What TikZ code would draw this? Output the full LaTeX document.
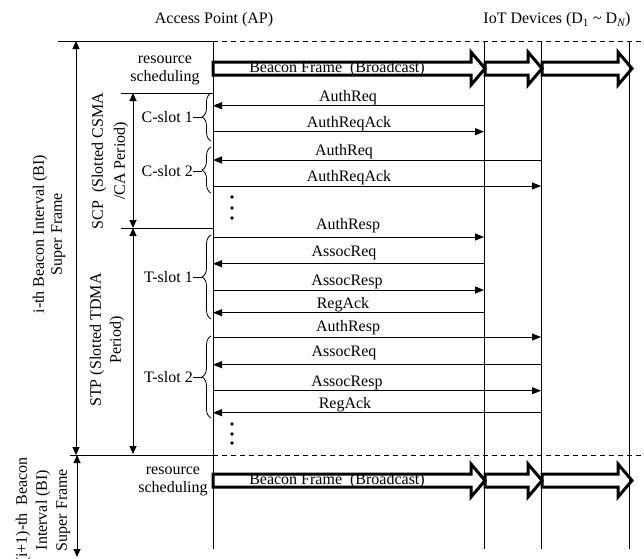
\documentclass[tikz,border=0pt]{standalone}
\usepackage{fontspec}
\setmainfont{Liberation Serif}
\usetikzlibrary{arrows.meta,decorations.pathreplacing}
\begin{document}
\begin{tikzpicture}[x=1pt,y=-1pt,
  every node/.style={inner sep=0pt, font=\fontsize{16}{18}\selectfont},
  lifeline/.style={line width=0.9pt},
  sep/.style={line width=0.9pt},
  sepdash/.style={line width=0.9pt, dash pattern=on 5pt off 4pt},
  msg/.style={line width=0.9pt,-{Triangle[length=9pt,width=7pt]}},
  period/.style={line width=0.9pt,{Triangle[length=8pt,width=7pt]}-{Triangle[length=8pt,width=7pt]}},
  beacon/.style={line width=3pt, line join=miter, miter limit=20},
  slotbrace/.style={line width=0.8pt, decorate, decoration={brace, amplitude=9pt}},
  dotmark/.style={fill, circle, minimum size=3.6pt},
  lbl/.style={anchor=base}
]
\useasboundingbox (0,0) rectangle (644,558);
\clip (0,0) rectangle (644,558);

% lifeline anchors
\coordinate (ap) at (213,41);
\coordinate (d1) at (484,41);
\coordinate (d2) at (541,41);
\coordinate (d3) at (629,41);
\coordinate (apB) at (213,549);
\coordinate (d1B) at (484,549);
\coordinate (d2B) at (541,549);
\coordinate (d3B) at (629,549);

% headers
\node (apLabel) at (214,20) {Access Point (AP)};
\node (iotLabel) at (557,20) {IoT Devices (D\textsubscript{1} \textasciitilde\ D\textsubscript{\itshape N})};

% beacon frames (two super frames)
\foreach \dy/\nm in {0/a,412/b} {
  \begin{scope}[shift={(0,\dy)}]
    \draw[beacon] (213,62) -- (471,62) -- (471,52) -- (485,68.5) -- (471,85) -- (471,75) -- (213,75) -- cycle;
    \draw[beacon] (485,62) -- (528,62) -- (528,52) -- (542,68.5) -- (528,85) -- (528,75) -- (485,75) -- cycle;
    \draw[beacon] (542,62) -- (618,62) -- (618,52) -- (632,68.5) -- (618,85) -- (618,75) -- (542,75) -- cycle;
    \node (beacon\nm) at (337,69) {Beacon Frame~~(Broadcast)};
  \end{scope}
}

% lifelines
\draw[lifeline] (ap) -- (apB);
\draw[lifeline] (d1) -- (d1B);
\draw[lifeline] (d2) -- (d2B);
\draw[lifeline] (d3) -- (d3B);

% separators
\coordinate (topL) at (58,41);
\coordinate (topR) at (644,41);
\coordinate (midL) at (70,455);
\coordinate (mid) at (213,455);
\coordinate (midR) at (644,455);
\draw[sep] (topL) -- (ap);
\draw[sepdash] (ap) -- (topR);
\draw[sep] (midL) -- (mid);
\draw[sepdash] (mid) -- (midR);
\coordinate (rsL) at (121,93);
\coordinate (scpL) at (121,228);
\draw[sep] (rsL) -- (ap |- rsL);
\draw[sep] (scpL) -- (ap |- scpL);

% resource scheduling labels
\node[align=center] (rsTop) at (165,70) {resource\\scheduling};
\node[align=center] (rsBot) at (173,481) {resource\\scheduling};

% period arrows
\coordinate (biT) at (76,41);
\coordinate (biB) at (76,455);
\draw[period] (biT) -- (biB);
\coordinate (scpT) at (133,93);
\coordinate (scpB) at (133,228);
\draw[period] (scpT) -- (scpB);
\coordinate (stpB) at (133,454);
\draw[period] (scpB) -- (stpB);
\coordinate (bi2T) at (77,455);
\coordinate (bi2B) at (77,557);
\draw[period] (bi2T) -- (bi2B);

% rotated labels
\node[rotate=90, align=center, font=\fontsize{16}{18}\selectfont] (biLabel) at (49,234) {i-th Beacon Interval (BI)\\Super Frame};
\node[rotate=90, align=center, font=\fontsize{16}{22}\selectfont] (scpLabel) at (110,161) {SCP~~(Slotted CSMA\\/CA Period)};
\node[rotate=90, align=center, font=\fontsize{16}{20}\selectfont] (stpLabel) at (107,340) {STP (Slotted TDMA\\Period)};
\node[rotate=90, align=center, font=\fontsize{16}{20}\selectfont] (bi2Label) at (43,510) {(i+1)-th~~Beacon\\Interval (BI)\\Super Frame};

% slot braces
\foreach \t/\b/\m/\txt/\nm in {93/141/117/C-slot 1/c1, 147/193/171/C-slot 2/c2, 235/319/277/T-slot 1/t1, 336/418/377/T-slot 2/t2} {
  \draw[slotbrace] (211,\b) -- (211,\t);
  \coordinate (\nm tip) at (202,\m);
  \node[anchor=east] (\nm) at (193,\m) {\txt};
  \draw[line width=0.8pt] (\nm tip) -- (\nm.east);
}

% messages
\foreach \y/\s/\e/\txt/\lx/\bl [count=\i] in {
  105.7/d1/ap/AuthReq/348/101,
  131.7/ap/d1/AuthReqAck/349/127.3,
  160/d2/ap/AuthReq/344/155,
  186/ap/d2/AuthReqAck/349/181.7,
  237/ap/d1/AuthResp/348/229.3,
  263.7/d1/ap/AssocReq/344/256,
  290/ap/d1/AssocResp/347/285,
  312.7/d1/ap/RegAck/343/308.3,
  337/ap/d2/AuthResp/348/331,
  364.7/d2/ap/AssocReq/344/356.7,
  390.7/ap/d2/AssocResp/347/386,
  412.7/d2/ap/RegAck/345/408.3} {
  \draw[msg] (\s |- 0,\y) -- (\e |- 0,\y);
  \node[lbl] (msg\i) at (\lx,\bl) {\txt};
}

% continuation dots
\foreach \y [count=\i] in {197,208,218,424,434,443} {
  \node[dotmark] (dot\i) at (232,\y) {};
}
\end{tikzpicture}
\end{document}
